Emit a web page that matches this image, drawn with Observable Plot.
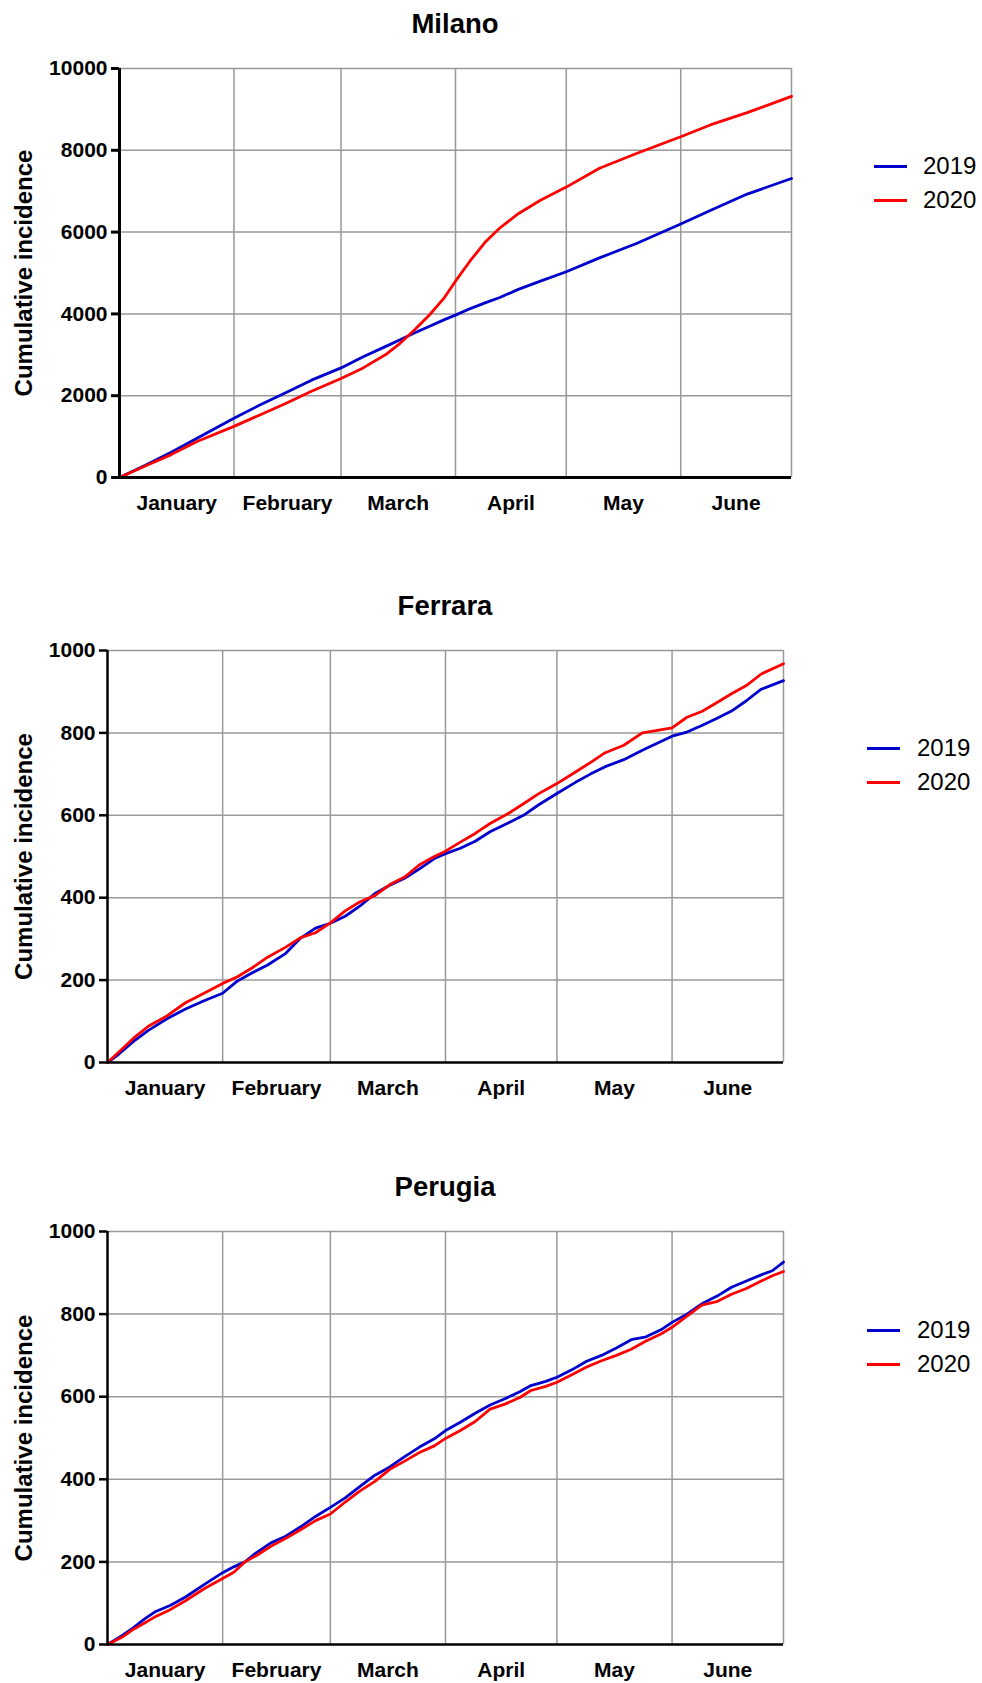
<!DOCTYPE html>
<html>
<head>
<meta charset="utf-8">
<script src="https://cdn.jsdelivr.net/npm/d3@7"></script>
<script src="https://cdn.jsdelivr.net/npm/@observablehq/plot@0.6"></script>
<style>
  body { margin: 0; background: #fff; }
  #page { position: relative; width: 982px; height: 1683px; overflow: hidden; font-family: "Liberation Sans", Arial, sans-serif; color: #000; }
  #page svg { position: absolute; left: 0; }
  .title { position: absolute; font-weight: bold; font-size: 27.5px; line-height: 27px; text-align: center; white-space: nowrap; width: 400px; }
  .lg-line { position: absolute; height: 0; border-top: 3px solid; }
  .lg-text { position: absolute; font-size: 24px; line-height: 24px; white-space: nowrap; }
</style>
</head>
<body>
<div id="page"></div>
<script>
// ---------------- data ----------------
const months = ["January", "February", "March", "April", "May", "June"];
const monthStarts = [0, 31, 60, 91, 121, 152, 182]; // day index of month boundaries (2020)
const years = ["2019", "2020"];
const yearColors = ["#0000cc", "#ff0000"];
const yLabel = "Cumulative incidence";

const titles = ["Milano", "Ferrara", "Perugia"];
const milanoTicks = [0, 2000, 4000, 6000, 8000, 10000];
const smallTicks = [0, 200, 400, 600, 800, 1000];

const milanoDays = [0, 7, 14, 21, 31, 38, 45, 52, 60, 66, 72, 76, 80, 84, 88, 91, 95, 99, 103, 108, 114, 121, 130, 140, 152, 160, 170, 182];
const milano2019 = [0, 300, 620, 960, 1450, 1770, 2070, 2380, 2680, 2950, 3200, 3370, 3540, 3700, 3860, 3970, 4130, 4270, 4400, 4600, 4800, 5030, 5370, 5720, 6200, 6530, 6930, 7310];
const milano2020 = [0, 280, 560, 880, 1250, 1530, 1810, 2110, 2420, 2680, 3000, 3280, 3620, 3980, 4400, 4800, 5300, 5750, 6100, 6450, 6780, 7100, 7560, 7920, 8330, 8620, 8920, 9320];

const ferraraDays = [0, 3, 7, 11, 16, 21, 26, 31, 35, 39, 43, 48, 52, 56, 60, 64, 68, 72, 76, 80, 84, 88, 91, 95, 99, 103, 108, 112, 116, 121, 126, 130, 134, 139, 144, 148, 152, 156, 160, 164, 168, 172, 176, 182];
const ferrara2019 = [0, 20, 51, 78, 106, 130, 150, 168, 198, 218, 236, 265, 302, 326, 338, 355, 380, 410, 430, 447, 470, 495, 507, 520, 537, 560, 582, 600, 625, 653, 680, 700, 718, 735, 758, 775, 792, 802, 818, 835, 853, 878, 906, 927];
const ferrara2020 = [0, 25, 59, 88, 113, 145, 168, 192, 208, 230, 255, 280, 303, 315, 339, 368, 390, 405, 432, 450, 480, 500, 513, 535, 556, 580, 605, 628, 652, 677, 705, 728, 752, 770, 800, 806, 812, 838, 852, 873, 895, 915, 943, 968];

const perugiaDays = [0, 4, 7, 10, 13, 17, 21, 26, 31, 34, 37, 40, 44, 48, 52, 56, 60, 64, 68, 72, 76, 80, 84, 88, 91, 95, 99, 103, 107, 111, 114, 118, 121, 125, 129, 133, 137, 141, 145, 149, 152, 156, 160, 164, 168, 172, 176, 179, 182];
const perugia2019 = [0, 22, 41, 62, 80, 95, 115, 145, 174, 188, 200, 222, 246, 262, 285, 310, 332, 355, 383, 410, 430, 455, 478, 498, 518, 538, 560, 580, 595, 612, 627, 637, 647, 665, 686, 700, 718, 738, 745, 762, 780, 800, 825, 843, 865, 880, 895, 905, 926];
const perugia2020 = [0, 18, 37, 52, 68, 85, 106, 135, 160, 175, 200, 215, 238, 257, 278, 300, 316, 345, 372, 395, 424, 444, 465, 481, 499, 518, 540, 570, 582, 598, 615, 625, 635, 653, 672, 687, 700, 715, 735, 752, 768, 795, 822, 830, 848, 862, 880, 893, 903];

// ---------------- drawing ----------------
const FONT = '"Liberation Sans", Arial, sans-serif';
const page = document.getElementById("page");
const monthTicks = months.map((m, i) => ({name: m, mid: (monthStarts[i] + monthStarts[i + 1]) / 2}));

function panel(cfg) {
  const rows = [];
  cfg.days.forEach((d, i) => {
    rows.push({day: d, value: cfg.s2019[i], year: years[0]});
    rows.push({day: d, value: cfg.s2020[i], year: years[1]});
  });
  const ticks = cfg.ticks;
  const chart = Plot.plot({
    width: 982,
    height: cfg.svgBottom - cfg.svgTop,
    marginLeft: cfg.L,
    marginRight: 982 - cfg.R,
    marginTop: cfg.T - cfg.svgTop,
    marginBottom: cfg.svgBottom - cfg.B,
    x: {domain: [0, 182], axis: null},
    y: {domain: [0, ticks[ticks.length - 1]]},
    color: {domain: years, range: yearColors},
    style: {fontFamily: FONT, background: "white", overflow: "visible", color: "black"},
    marks: [
      Plot.ruleY(ticks.slice(1), {stroke: "#999999", strokeWidth: 1.5}),
      Plot.ruleX(monthStarts.slice(1), {stroke: "#999999", strokeWidth: 1.5}),
      Plot.line(rows, {x: "day", y: "value", z: "year", stroke: "year", strokeWidth: 2.8}),
      Plot.ruleX([0], {stroke: "black", strokeWidth: cfg.axisW}),
      Plot.ruleY([0], {stroke: "black", strokeWidth: cfg.axisW}),
      Plot.axisY({ticks, tickSize: 8, tickPadding: 4, strokeWidth: cfg.axisW, fontSize: 21, fontWeight: "bold", label: null, tickFormat: d3.format("d")}),
      Plot.text(monthTicks, {x: "mid", text: "name", frameAnchor: "bottom", lineAnchor: "top", dy: 18, fontSize: 21, fontWeight: "bold", fill: "black"}),
      Plot.text([yLabel], {frameAnchor: "left", rotate: -90, dx: -(cfg.L - 24), textAnchor: "middle", lineAnchor: "middle", fontSize: 24, fontWeight: "bold", fill: "black"})
    ]
  });
  chart.style.top = cfg.svgTop + "px";
  page.appendChild(chart);

  const t = document.createElement("div");
  t.className = "title";
  t.textContent = cfg.title;
  t.style.left = ((cfg.L + cfg.R) / 2 - 200) + "px";
  t.style.top = (cfg.titleBaseline - 23.2) + "px";
  page.appendChild(t);

  years.forEach((yr, i) => {
    const yy = cfg.legendY[i];
    const ln = document.createElement("div");
    ln.className = "lg-line";
    ln.style.borderTopColor = yearColors[i];
    ln.style.left = cfg.legendX[0] + "px";
    ln.style.width = (cfg.legendX[1] - cfg.legendX[0]) + "px";
    ln.style.top = (yy - 1.5) + "px";
    page.appendChild(ln);
    const tx = document.createElement("div");
    tx.className = "lg-text";
    tx.textContent = yr;
    tx.style.left = cfg.legendX[2] + "px";
    tx.style.top = (yy - 11.7) + "px";
    page.appendChild(tx);
  });
}

panel({title: titles[0], days: milanoDays, s2019: milano2019, s2020: milano2020, ticks: milanoTicks,
  L: 119, T: 68, R: 791, B: 477, svgTop: 45, svgBottom: 545, axisW: 3, titleBaseline: 33,
  legendY: [166, 200], legendX: [874, 907, 923]});
panel({title: titles[1], days: ferraraDays, s2019: ferrara2019, s2020: ferrara2020, ticks: smallTicks,
  L: 107, T: 650, R: 783, B: 1062, svgTop: 625, svgBottom: 1120, axisW: 2.5, titleBaseline: 615,
  legendY: [748, 782], legendX: [867, 900, 917]});
panel({title: titles[2], days: perugiaDays, s2019: perugia2019, s2020: perugia2020, ticks: smallTicks,
  L: 107, T: 1231, R: 783, B: 1644, svgTop: 1205, svgBottom: 1683, axisW: 2.5, titleBaseline: 1196,
  legendY: [1330, 1364], legendX: [867, 900, 917]});
</script>
</body>
</html>
